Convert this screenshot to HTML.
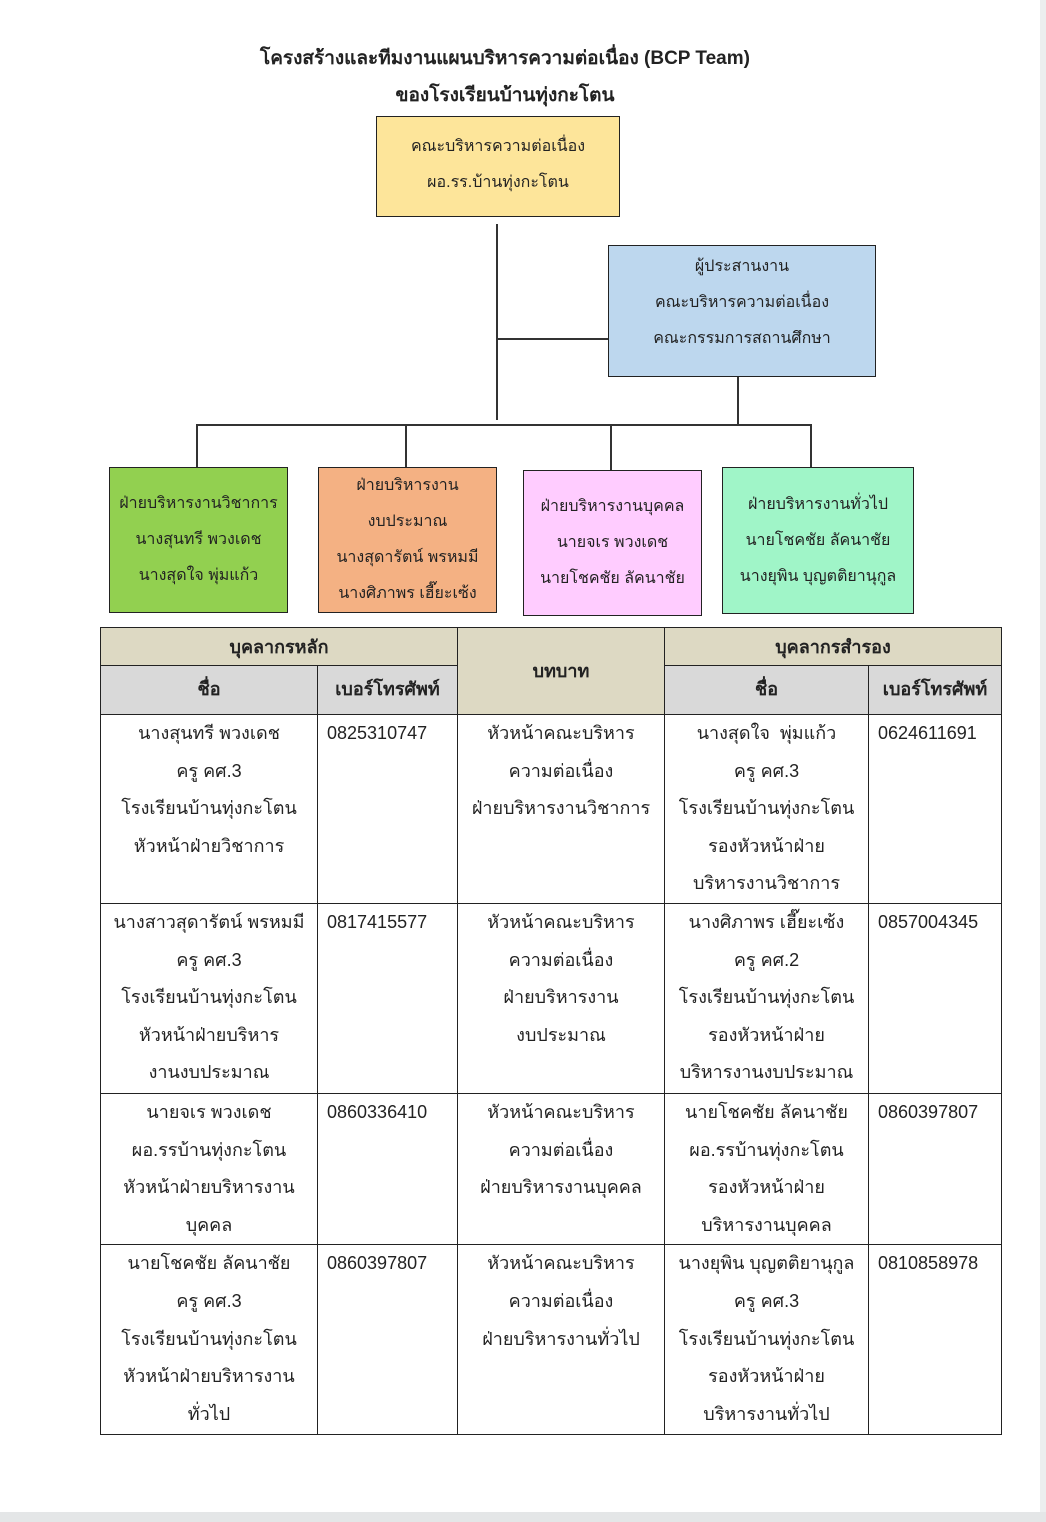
<!DOCTYPE html>
<html><head><meta charset="utf-8"><style>
body{margin:0;width:1046px;height:1522px;position:relative;background:#fff;font-family:"Liberation Sans","DejaVu Sans",sans-serif;color:#222;overflow:hidden}
.a{position:absolute;box-sizing:border-box}
.box{position:absolute;box-sizing:border-box;border:1.5px solid #222;display:flex;flex-direction:column;justify-content:center;align-items:center;text-align:center;font-size:16px;line-height:36px}
.l{position:absolute;background:#333}
table{position:absolute;left:100px;top:627px;width:901px;border-collapse:collapse;font-size:18px;table-layout:fixed}
td{border:1.5px solid #222;vertical-align:top;text-align:center;line-height:37.6px;padding:0 4px}
td.p{text-align:left;padding-left:9px}
.h1{background:#ddd9c3;font-weight:bold;height:37px;vertical-align:middle;line-height:30px}
.h2{background:#d9d9d9;font-weight:bold;height:48px;vertical-align:middle}
</style></head><body>
<div class="a" style="left:0;top:40px;width:1010px;text-align:center;font-weight:bold;font-size:19px;line-height:37px">โครงสร้างและทีมงานแผนบริหารความต่อเนื่อง (BCP Team)<br>ของโรงเรียนบ้านทุ่งกะโตน</div>
<div class="box" style="left:376px;top:116px;width:244px;height:101px;background:#fde59a;padding-bottom:4px">คณะบริหารความต่อเนื่อง<br>ผอ.รร.บ้านทุ่งกะโตน</div>
<div class="box" style="left:608px;top:245px;width:268px;height:132px;background:#bdd7ee;padding-bottom:16px">ผู้ประสานงาน<br>คณะบริหารความต่อเนื่อง<br>คณะกรรมการสถานศึกษา</div>
<div class="l" style="left:496px;top:224px;width:1.5px;height:196px"></div>
<div class="l" style="left:497px;top:338px;width:111px;height:1.5px"></div>
<div class="l" style="left:737px;top:377px;width:1.5px;height:48px"></div>
<div class="l" style="left:196px;top:424px;width:616px;height:1.5px"></div>
<div class="l" style="left:196px;top:424px;width:1.5px;height:43px"></div>
<div class="l" style="left:405px;top:424px;width:1.5px;height:43px"></div>
<div class="l" style="left:610px;top:424px;width:1.5px;height:46px"></div>
<div class="l" style="left:810px;top:424px;width:1.5px;height:43px"></div>
<div class="box" style="left:109px;top:467px;width:179px;height:146px;background:#92d050">ฝ่ายบริหารงานวิชาการ<br>นางสุนทรี พวงเดช<br>นางสุดใจ พุ่มแก้ว</div>
<div class="box" style="left:318px;top:467px;width:179px;height:146px;background:#f4b183">ฝ่ายบริหารงาน<br>งบประมาณ<br>นางสุดารัตน์ พรหมมี<br>นางศิภาพร เฮี๊ยะเซ้ง</div>
<div class="box" style="left:523px;top:470px;width:179px;height:146px;background:#ffccff">ฝ่ายบริหารงานบุคคล<br>นายจเร พวงเดช<br>นายโชคชัย ลัคนาชัย</div>
<div class="box" style="left:722px;top:467px;width:192px;height:147px;background:#a0f5c8">ฝ่ายบริหารงานทั่วไป<br>นายโชคชัย ลัคนาชัย<br>นางยุพิน บุญตติยานุกูล</div>
<table>
<colgroup><col style="width:217px"><col style="width:140px"><col style="width:207px"><col style="width:204px"><col style="width:133px"></colgroup>
<tr><td class="h1" colspan="2">บุคลากรหลัก</td><td class="h1" rowspan="2" style="vertical-align:middle">บทบาท</td><td class="h1" colspan="2">บุคลากรสำรอง</td></tr>
<tr><td class="h2">ชื่อ</td><td class="h2">เบอร์โทรศัพท์</td><td class="h2">ชื่อ</td><td class="h2">เบอร์โทรศัพท์</td></tr>
<tr style="height:189px"><td>นางสุนทรี พวงเดช<br>ครู คศ.3<br>โรงเรียนบ้านทุ่งกะโตน<br>หัวหน้าฝ่ายวิชาการ</td><td class="p">0825310747</td><td>หัวหน้าคณะบริหาร<br>ความต่อเนื่อง<br>ฝ่ายบริหารงานวิชาการ</td><td>นางสุดใจ &nbsp;พุ่มแก้ว<br>ครู คศ.3<br>โรงเรียนบ้านทุ่งกะโตน<br>รองหัวหน้าฝ่าย<br>บริหารงานวิชาการ</td><td class="p">0624611691</td></tr>
<tr style="height:190px"><td>นางสาวสุดารัตน์ พรหมมี<br>ครู คศ.3<br>โรงเรียนบ้านทุ่งกะโตน<br>หัวหน้าฝ่ายบริหาร<br>งานงบประมาณ</td><td class="p">0817415577</td><td>หัวหน้าคณะบริหาร<br>ความต่อเนื่อง<br>ฝ่ายบริหารงาน<br>งบประมาณ</td><td>นางศิภาพร เฮี๊ยะเซ้ง<br>ครู คศ.2<br>โรงเรียนบ้านทุ่งกะโตน<br>รองหัวหน้าฝ่าย<br>บริหารงานงบประมาณ</td><td class="p">0857004345</td></tr>
<tr style="height:150px"><td>นายจเร พวงเดช<br>ผอ.รรบ้านทุ่งกะโตน<br>หัวหน้าฝ่ายบริหารงาน<br>บุคคล</td><td class="p">0860336410</td><td>หัวหน้าคณะบริหาร<br>ความต่อเนื่อง<br>ฝ่ายบริหารงานบุคคล</td><td>นายโชคชัย ลัคนาชัย<br>ผอ.รรบ้านทุ่งกะโตน<br>รองหัวหน้าฝ่าย<br>บริหารงานบุคคล</td><td class="p">0860397807</td></tr>
<tr style="height:190px"><td>นายโชคชัย ลัคนาชัย<br>ครู คศ.3<br>โรงเรียนบ้านทุ่งกะโตน<br>หัวหน้าฝ่ายบริหารงาน<br>ทั่วไป</td><td class="p">0860397807</td><td>หัวหน้าคณะบริหาร<br>ความต่อเนื่อง<br>ฝ่ายบริหารงานทั่วไป</td><td>นางยุพิน บุญตติยานุกูล<br>ครู คศ.3<br>โรงเรียนบ้านทุ่งกะโตน<br>รองหัวหน้าฝ่าย<br>บริหารงานทั่วไป</td><td class="p">0810858978</td></tr>
</table>
<div class="a" style="left:1040px;top:0;width:6px;height:1522px;background:#eceeef"></div>
<div class="a" style="left:0;top:1512px;width:1046px;height:10px;background:#e4e6e7"></div>
</body></html>
